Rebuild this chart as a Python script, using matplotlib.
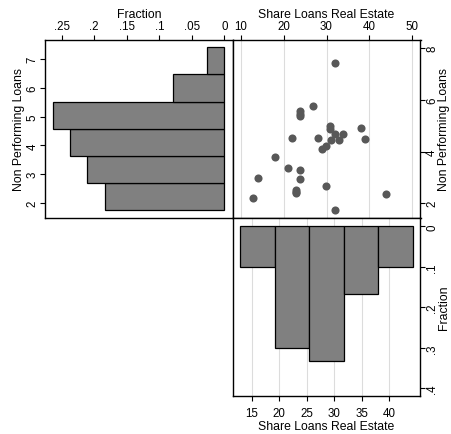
import matplotlib
matplotlib.use('Agg')
import matplotlib.pyplot as plt
import numpy as np

# data
share = [31.98, 26.9, 23.9, 23.9, 23.9, 30.9, 30.9, 37.97, 21.9, 27.95,
         31.98, 33.95, 38.97, 30.95, 32.98, 29.9, 28.9, 17.9, 20.96, 23.9,
         23.9, 13.96, 22.9, 22.9, 22.9, 29.9, 12.94, 43.9, 31.98]
npl = [7.41, 5.77, 5.58, 5.45, 5.39, 4.98, 4.89, 4.91, 4.51, 4.51,
       4.68, 4.68, 4.49, 4.45, 4.45, 4.23, 4.10, 3.80, 3.38, 3.29,
       2.94, 2.98, 2.52, 2.44, 2.38, 2.66, 2.22, 2.35, 1.75]

# histogram of Non Performing Loans (horizontal, left panel)
npl_edges = [1.757, 2.699, 3.640, 4.582, 5.523, 6.465, 7.406]
npl_frac = [7/38, 8/38, 9/38, 10/38, 3/38, 1/38]

# histogram of Share Loans Real Estate (bottom panel)
share_edges = [12.87, 19.16, 25.45, 31.74, 38.03, 44.31]
share_frac = [3/30, 9/30, 10/30, 5/30, 3/30]

frac_ticks_left = [0.25, 0.2, 0.15, 0.1, 0.05, 0]
frac_labels_left = ['.25', '.2', '.15', '.1', '.05', '0']
frac_ticks_bot = [0, 0.1, 0.2, 0.3, 0.4]
frac_labels_bot = ['0', '.1', '.2', '.3', '.4']

########################################################################

plt.rcParams['font.family'] = ['Liberation Sans', 'DejaVu Sans']
plt.rcParams['font.size'] = 8.8
plt.rcParams['axes.linewidth'] = 1.0
plt.rcParams['xtick.labelsize'] = 8.3
plt.rcParams['ytick.labelsize'] = 8.3
plt.rcParams['xtick.major.size'] = 3.6
plt.rcParams['ytick.major.size'] = 3.6
plt.rcParams['xtick.major.width'] = 0.8
plt.rcParams['ytick.major.width'] = 0.8
plt.rcParams['xtick.major.pad'] = 2
plt.rcParams['ytick.major.pad'] = 2

BAR = '#808080'
DOT = '#585858'
GRID = '#dcdcdc'

fig = plt.figure(figsize=(4.52, 4.35), dpi=100)

x0, xm, x1 = 45/452, 232.5/452, 420.5/452
ytop, ymid, ybot = 1 - 40.7/435, 1 - 219/435, 1 - 397.3/435

ax_l = fig.add_axes([x0, ymid, xm - x0, ytop - ymid])
ax_s = fig.add_axes([xm, ymid, x1 - xm, ytop - ymid])
ax_b = fig.add_axes([xm, ybot, x1 - xm, ymid - ybot])

# left: horizontal histogram
ax_l.barh(npl_edges[:-1], npl_frac, height=np.diff(npl_edges), align='edge',
          color=BAR, edgecolor='black', linewidth=0.9)
ax_l.set_xlim(0.2757, -0.0126)
ax_l.set_ylim(1.479, 7.670)
ax_l.xaxis.tick_top()
ax_l.xaxis.set_label_position('top')
ax_l.set_xticks(frac_ticks_left)
ax_l.set_xticklabels(frac_labels_left)
ax_l.set_xlabel('Fraction', labelpad=2)
ax_l.set_yticks([2, 3, 4, 5, 6, 7])
ax_l.tick_params(axis='y', labelrotation=90, pad=1)
for t in ax_l.get_yticklabels():
    t.set_va('center')
ax_l.set_ylabel('Non Performing Loans', labelpad=1)

# scatter
ax_s.set_axisbelow(True)
ax_s.scatter(share, npl, s=34, color=DOT, linewidths=0, zorder=3)
ax_s.set_xlim(8.09, 51.91)
ax_s.set_ylim(1.432, 8.321)
ax_s.xaxis.tick_top()
ax_s.xaxis.set_label_position('top')
ax_s.set_xticks([10, 20, 30, 40, 50])
ax_s.set_xlabel('Share Loans Real Estate', labelpad=2)
ax_s.yaxis.tick_right()
ax_s.yaxis.set_label_position('right')
ax_s.set_yticks([2, 4, 6, 8])
ax_s.tick_params(axis='y', labelrotation=90, pad=0.5)
for t in ax_s.get_yticklabels():
    t.set_va('center')
ax_s.set_ylabel('Non Performing Loans', labelpad=0, rotation=90)
ax_s.grid(axis='x', color=GRID, linewidth=0.8)

# bottom: histogram
ax_b.set_axisbelow(True)
ax_b.bar(share_edges[:-1], share_frac, width=np.diff(share_edges), align='edge',
         color=BAR, edgecolor='black', linewidth=0.9)
ax_b.set_xlim(11.50, 45.73)
ax_b.set_ylim(0.4198, -0.0205)
ax_b.set_xticks([15, 20, 25, 30, 35, 40])
ax_b.tick_params(axis='x', pad=4)
ax_b.set_xlabel('Share Loans Real Estate', labelpad=1)
ax_b.yaxis.tick_right()
ax_b.yaxis.set_label_position('right')
ax_b.set_yticks(frac_ticks_bot)
ax_b.set_yticklabels(frac_labels_bot)
ax_b.tick_params(axis='y', labelrotation=90, pad=0.5)
for t in ax_b.get_yticklabels():
    t.set_va('center')
ax_b.set_ylabel('Fraction', labelpad=0, rotation=90)
ax_b.grid(axis='x', color=GRID, linewidth=0.8)

fig.savefig('out.png', dpi=100)
